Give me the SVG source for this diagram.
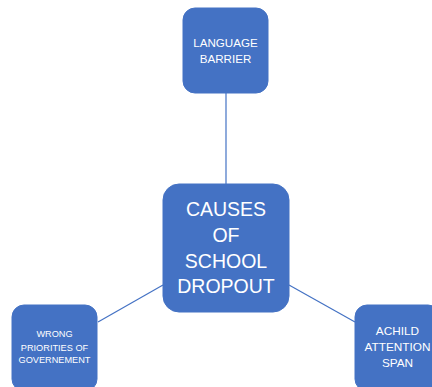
<svg xmlns="http://www.w3.org/2000/svg" width="432" height="387" viewBox="0 0 432 387">
<style>
.box{fill:#4472C4;stroke:#4472C4;stroke-width:1}
.t{fill:#ffffff;font-family:"Liberation Sans",Arial,sans-serif;text-anchor:middle}
.con{stroke:#4472C4;stroke-width:1.2;fill:none}
</style>
<rect width="432" height="387" fill="#ffffff"/>
<g id="connectors">
<line class="con" x1="226" y1="93" x2="226" y2="184"/>
<line class="con" x1="98" y1="322" x2="163" y2="285"/>
<line class="con" x1="289" y1="285" x2="355" y2="322"/>
</g>
<g id="node-language">
<rect class="box" x="183" y="8" width="85" height="85" rx="12"/>
<text class="t" font-size="11.6"><tspan x="225.5" y="47">LANGUAGE</tspan><tspan x="225.5" y="63">BARRIER</tspan></text>
</g>
<g id="node-center">
<rect class="box" x="163" y="184" width="126" height="128" rx="16"/>
<text class="t" font-size="19.5"><tspan x="226" y="216">CAUSES</tspan><tspan x="226" y="242">OF</tspan><tspan x="226" y="268">SCHOOL</tspan><tspan x="226" y="293">DROPOUT</tspan></text>
</g>
<g id="node-wrong">
<rect class="box" x="12" y="305" width="85" height="86" rx="12"/>
<text class="t" font-size="9.2"><tspan x="54.5" y="337">WRONG</tspan><tspan x="54.5" y="351">PRIORITIES OF</tspan><tspan x="54.5" y="363">GOVERNEMENT</tspan></text>
</g>
<g id="node-achild">
<rect class="box" x="355" y="305" width="85" height="86" rx="12"/>
<text class="t" font-size="11.8"><tspan x="397.5" y="335">ACHILD</tspan><tspan x="397.5" y="351">ATTENTION</tspan><tspan x="397.5" y="367">SPAN</tspan></text>
</g>
</svg>
